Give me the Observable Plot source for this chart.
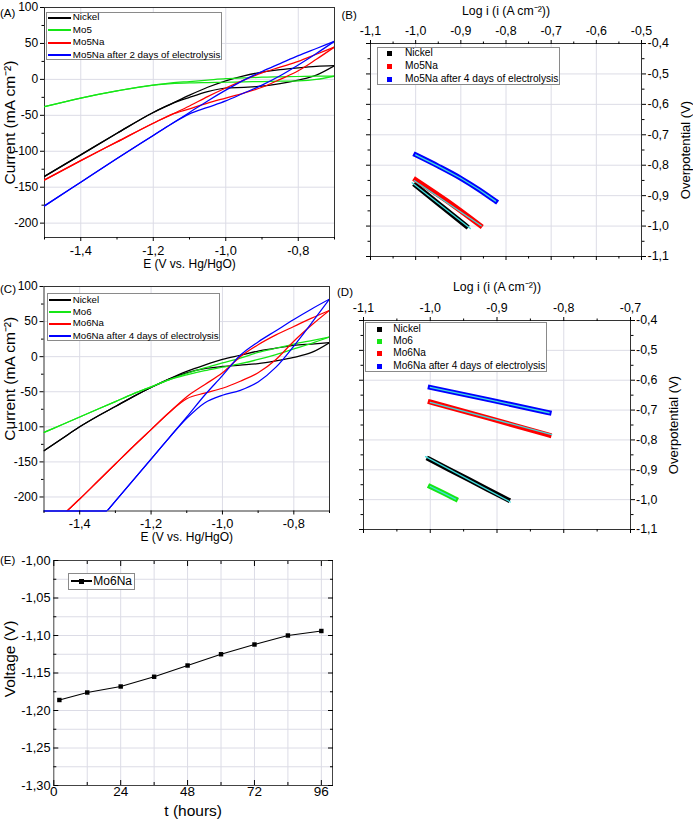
<!DOCTYPE html>
<html>
<head>
<meta charset="utf-8">
<script src="https://cdn.jsdelivr.net/npm/d3@7"></script>
<script src="https://cdn.jsdelivr.net/npm/@observablehq/plot@0.6"></script>
<style>
  body { margin: 0; background: #fff; }
  #fig { position: relative; width: 693px; height: 821px; overflow: hidden;
         font-family: "Liberation Sans", Arial, Helvetica, sans-serif; color: #000; background: #fff; }
  #fig svg { position: absolute; overflow: visible; background: transparent; }
  .plab { position: absolute; font-size: 11.5px; line-height: 16px; white-space: nowrap; }
  .leg { position: absolute; border: 1px solid #8a8a8a; background: #fff; box-sizing: border-box; }
  .leg div { position: absolute; white-space: nowrap; }
</style>
</head>
<body>
<div id="fig"></div>
<script>
// ---------------- DATA ----------------
// Panel A: cyclic voltammograms (E in V vs Hg/HgO, current in mA cm-2)
const E_A = [-1.5, -1.4, -1.3, -1.2, -1.15, -1.1, -1.05, -1.0, -0.95, -0.9, -0.85, -0.8, -0.75, -0.7];
const nickelA_up = [-135, -105, -75, -46, -34, -22, -11, -2, 5, 10, 13.5, 16, 18, 19];
const nickelA_dn = [-135, -105, -75, -46, -34, -25, -17, -12, -11, -9.5, -6, -1, 6, 19];
const mo5A_up    = [-38, -26, -16, -8, -5, -3, -1, 1, 2, 3, 3.5, 4, 4.5, 4.5];
const mo5A_dn    = [-38, -26, -16, -8, -6, -5, -4.5, -4, -3.5, -3, -2.5, -2, 0, 4.5];
const mo5naA_up  = [-140, -113, -87, -61, -49, -37, -24, -12, -1, 9, 17, 25, 35, 45];
const mo5naA_dn  = [-140, -113, -87, -61, -49, -41, -33, -26, -19, -11, 0, 12, 28, 45];
const mo5na2A_up = [-176, -143, -110, -78, -62, -46, -30, -15, -1, 11, 22, 33, 43, 53];
const mo5na2A_dn = [-176, -143, -110, -78, -62, -48, -39, -30, -19, -8, 5, 20, 36, 53];

// Panel C: cyclic voltammograms
const E_C = [-1.5, -1.45, -1.4, -1.35, -1.3, -1.25, -1.2, -1.15, -1.1, -1.05, -1.0, -0.95, -0.9, -0.85, -0.8, -0.75, -0.7];
const nickelC_up = [-134, -117, -100, -85, -71, -57, -44, -32, -21, -12, -4, 2, 8, 12, 16, 18, 20];
const nickelC_dn = [-134, -117, -100, -85, -71, -57, -44, -32, -23, -17, -14, -12, -10, -6, -1, 6, 20];
const mo6C_up    = [-108, -97, -86, -75, -64, -53, -43, -33, -24, -16, -9, -2, 6, 12, 18, 23, 28];
const mo6C_dn    = [-108, -97, -86, -75, -64, -53, -43, -33, -26, -20, -15, -10, -4, 3, 11, 19, 28];
const mo6naC_up  = [-252, -227, -203, -178, -153, -128, -104, -80, -57, -40, -23, 0, 17, 31, 43, 55, 66];
const mo6naC_dn  = [-252, -227, -203, -178, -153, -128, -104, -80, -60, -52, -45, -35, -23, -4, 22, 45, 66];
const mo6na4C_up = [-326, -296, -266, -236, -206, -176, -146, -116, -86, -55, -27, 2, 21, 37, 53, 68, 82];
const mo6na4C_dn = [-326, -296, -266, -236, -206, -176, -146, -116, -88, -66, -55, -48, -36, -15, 15, 48, 82];
const mo6na4C_floorE = [-1.5, -1.325];      // trace drawn along the lower limit
const mo6na4C_floorI = [-220, -220];

// Panel B: Tafel plots (log i, overpotential V)
const nickelB_L = [-1.0, -0.944, -0.888];          const nickelB_eta = [-0.866, -0.933, -1.0];
const nickelB_fitL = [-1.008, -0.879];             const nickelB_fitEta = [-0.858, -1.008];
const mo5naB_L = [-1.0, -0.93, -0.857];            const mo5naB_eta = [-0.848, -0.918, -0.998];
const mo5naB_fitL = [-1.003, -0.855];              const mo5naB_fitEta = [-0.851, -0.999];
const mo5na4B_L = [-1.0, -0.95, -0.9, -0.86, -0.823]; const mo5na4B_eta = [-0.766, -0.803, -0.843, -0.880, -0.918];

// Panel D: Tafel plots
const nickelD_L = [-1.002, -0.943, -0.884];        const nickelD_eta = [-0.864, -0.932, -1.0];
const nickelD_fitL = [-1.007, -0.880];             const nickelD_fitEta = [-0.856, -1.008];
const mo6D_L = [-1.0, -0.98, -0.962];              const mo6D_eta = [-0.956, -0.978, -0.998];
const mo6naD_L = [-1.0, -0.911, -0.822];           const mo6naD_eta = [-0.673, -0.728, -0.784];
const mo6naD_fitL = [-1.0, -0.818];                const mo6naD_fitEta = [-0.674, -0.782];
const mo6na4D_L = [-1.0, -0.911, -0.822];          const mo6na4D_eta = [-0.624, -0.666, -0.709];

// Panel E: chronopotentiometry
const tHours = [2, 12, 24, 36, 48, 60, 72, 84, 96];
const voltage = [-1.186, -1.176, -1.168, -1.155, -1.140, -1.125, -1.112, -1.100, -1.094];

// Ticks and labels
const xTicksCV = [-1.4, -1.2, -1.0, -0.8];
const xMinorCV = [-1.5, -1.3, -1.1, -0.9, -0.7];
const yTicksCV = [-200, -150, -100, -50, 0, 50, 100];
const yMinorCV = [-175, -125, -75, -25, 25, 75];
const xTicksB = [-1.1, -1.0, -0.9, -0.8, -0.7, -0.6, -0.5];
const xMinorB = [-1.05, -0.95, -0.85, -0.75, -0.65, -0.55];
const xTicksD = [-1.1, -1.0, -0.9, -0.8, -0.7];
const xMinorD = [-1.05, -0.95, -0.85, -0.75];
const yTicksT = [-1.1, -1.0, -0.9, -0.8, -0.7, -0.6, -0.5, -0.4];
const yMinorT = [-1.05, -0.95, -0.85, -0.75, -0.65, -0.55, -0.45];
const tTicks = [0, 24, 48, 72, 96];
const tMinor = [12, 36, 60, 84];
const vTicks = [-1.30, -1.25, -1.20, -1.15, -1.10, -1.05, -1.00];
const vMinor = [-1.275, -1.225, -1.175, -1.125, -1.075, -1.025];

const legendA = ["Nickel", "Mo5", "Mo5Na", "Mo5Na after 2 days of electrolysis"];
const legendB = ["Nickel", "Mo5Na", "Mo5Na after 4 days of electrolysis"];
const legendC = ["Nickel", "Mo6", "Mo6Na", "Mo6Na after 4 days of electrolysis"];
const legendD = ["Nickel", "Mo6", "Mo6Na", "Mo6Na after 4 days of electrolysis"];
const legendE = ["Mo6Na"];

// ---------------- STYLE ----------------
const FONT = '"Liberation Sans", Arial, Helvetica, sans-serif';
const GRID = "#dcdce6";
const FRAME = "#333";
const COL = {black: "#000000", green: "#16e616", red: "#ff0000", blue: "#0000ff", cyan: "#3fdcdc"};
const fmt = n => d => d.toFixed(n).replace(".", ",");
const blank = () => "";
const fig = document.getElementById("fig");
const centered = {textAnchor: "middle", lineAnchor: "middle"};

function place(node, left, top) {
  node.style.left = left + "px";
  node.style.top = top + "px";
  fig.appendChild(node);
}
function rowsOf(xs, ys) { return xs.map((x, i) => ({x, y: ys[i]})); }
function branchRows(E, up, dn) {
  return [...E.map((e, i) => ({x: e, y: dn[i], b: "dn"})), ...E.map((e, i) => ({x: e, y: up[i], b: "up"}))];
}

// ---------------- CV PANELS ----------------
function cvPanel({E, series, floor, ml, mr, mt, mb, yDy, yDx}) {
  const marks = [
    Plot.gridX(xTicksCV, {stroke: GRID, strokeOpacity: 1}),
    Plot.gridY(yTicksCV, {stroke: GRID, strokeOpacity: 1}),
    Plot.frame({stroke: FRAME, strokeWidth: 1})
  ];
  for (const s of series) {
    marks.push(Plot.line(branchRows(E, s.up, s.dn), {x: "x", y: "y", z: "b", stroke: s.color, strokeWidth: 1.25, curve: "monotone-x", clip: true}));
  }
  if (floor) marks.push(Plot.line(rowsOf(floor.E, floor.I), {x: "x", y: "y", stroke: floor.color, strokeWidth: 1.4}));
  marks.push(
    Plot.axisY(yTicksCV, {anchor: "left", tickSize: 4, tickPadding: 2.3, tickFormat: d => String(d), fontSize: 12, label: null}),
    Plot.axisY(yMinorCV, {anchor: "left", tickSize: 2.5, tickFormat: blank, label: null}),
    Plot.axisX(xTicksCV, {anchor: "bottom", tickSize: 4, tickPadding: 4, tickFormat: fmt(1), fontSize: 12.8, label: null}),
    Plot.axisX(xMinorCV, {anchor: "bottom", tickSize: 2.5, tickFormat: blank, label: null}),
    Plot.text(["Current (mA cm⁻²)"], {frameAnchor: "left", dx: yDx, dy: yDy, rotate: -90, fontSize: 15.5, ...centered}),
    Plot.text(["E (V vs. Hg/HgO)"], {frameAnchor: "bottom", dy: 26.5, fontSize: 12, ...centered})
  );
  return Plot.plot({
    width: 345, height: 270, marginLeft: ml, marginRight: mr, marginTop: mt, marginBottom: mb,
    x: {domain: [-1.5, -0.7]}, y: {domain: [-220, 100]},
    style: {fontFamily: FONT, background: "transparent", overflow: "visible"},
    marks
  });
}

place(cvPanel({
  E: E_A, ml: 44, mr: 11, mt: 7, mb: 33, yDx: -34, yDy: 0,
  series: [
    {color: COL.black, up: nickelA_up, dn: nickelA_dn},
    {color: COL.green, up: mo5A_up, dn: mo5A_dn},
    {color: COL.red, up: mo5naA_up, dn: mo5naA_dn},
    {color: COL.blue, up: mo5na2A_up, dn: mo5na2A_dn}
  ]
}), 0, 0);

place(cvPanel({
  E: E_C, ml: 43.5, mr: 16, mt: 16, mb: 29.5, yDx: -33.5, yDy: -20,
  series: [
    {color: COL.black, up: nickelC_up, dn: nickelC_dn},
    {color: COL.green, up: mo6C_up, dn: mo6C_dn},
    {color: COL.red, up: mo6naC_up, dn: mo6naC_dn},
    {color: COL.blue, up: mo6na4C_up, dn: mo6na4C_dn}
  ],
  floor: {E: mo6na4C_floorE, I: mo6na4C_floorI, color: COL.blue}
}), 0, 270);

// ---------------- TAFEL PANELS ----------------
function tafelPanel({xDomain, xTicks, xMinor, ml, mr, mt, mb, bands, topDy, rightDx, tickPadTop, tickPadRight}) {
  const marks = [
    Plot.gridX(xTicks, {stroke: GRID, strokeOpacity: 1}),
    Plot.gridY(yTicksT, {stroke: GRID, strokeOpacity: 1})
  ];
  for (const b of bands) {
    marks.push(Plot.line(rowsOf(b.L, b.eta), {x: "x", y: "y", stroke: b.color, strokeWidth: 5, strokeLinecap: "square", curve: "monotone-x"}));
    marks.push(Plot.line(rowsOf(b.fitL, b.fitEta), {x: "x", y: "y", stroke: COL.cyan, strokeWidth: 1.3}));
  }
  marks.push(
    Plot.frame({stroke: FRAME}),
    Plot.axisX(xTicks, {anchor: "top", tickSize: 4, tickPadding: tickPadTop, tickFormat: fmt(1), fontSize: 12.4, label: null}),
    Plot.axisX(xMinor, {anchor: "top", tickSize: 2.5, tickFormat: blank, label: null}),
    Plot.axisX(xTicks, {anchor: "bottom", tickSize: 4, tickFormat: blank, label: null}),
    Plot.axisX(xMinor, {anchor: "bottom", tickSize: 2.5, tickFormat: blank, label: null}),
    Plot.axisY(yTicksT, {anchor: "right", tickSize: 4, tickPadding: tickPadRight, tickFormat: fmt(1), fontSize: 12.4, label: null}),
    Plot.axisY(yMinorT, {anchor: "right", tickSize: 2.5, tickFormat: blank, label: null}),
    Plot.axisY(yTicksT, {anchor: "left", tickSize: 4, tickFormat: blank, label: null}),
    Plot.axisY(yMinorT, {anchor: "left", tickSize: 2.5, tickFormat: blank, label: null}),
    Plot.text(["Log i (i (A cm⁻²))"], {frameAnchor: "top", dy: topDy, fontSize: 12.3, ...centered}),
    Plot.text(["Overpotential (V)"], {frameAnchor: "right", dx: rightDx, rotate: -90, fontSize: 13, ...centered})
  );
  return Plot.plot({
    width: 348, height: 270, marginLeft: ml, marginRight: mr, marginTop: mt, marginBottom: mb,
    x: {domain: xDomain}, y: {domain: [-1.1, -0.4]},
    style: {fontFamily: FONT, background: "transparent", overflow: "visible"},
    marks
  });
}

place(tafelPanel({
  xDomain: [-1.1, -0.5], xTicks: xTicksB, xMinor: xMinorB, ml: 25, mr: 52, mt: 43, mb: 14,
  topDy: -32, rightDx: 44, tickPadTop: 4.6, tickPadRight: 2,
  bands: [
    {color: COL.black, L: nickelB_L, eta: nickelB_eta, fitL: nickelB_fitL, fitEta: nickelB_fitEta},
    {color: COL.red, L: mo5naB_L, eta: mo5naB_eta, fitL: mo5naB_fitL, fitEta: mo5naB_fitEta},
    {color: COL.blue, L: mo5na4B_L, eta: mo5na4B_eta, fitL: mo5na4B_L, fitEta: mo5na4B_eta}
  ]
}), 345, 0);

place(tafelPanel({
  xDomain: [-1.1, -0.7], xTicks: xTicksD, xMinor: xMinorD, ml: 18, mr: 63, mt: 50, mb: 11,
  topDy: -33, rightDx: 43, tickPadTop: 5, tickPadRight: 1.5,
  bands: [
    {color: COL.black, L: nickelD_L, eta: nickelD_eta, fitL: nickelD_fitL, fitEta: nickelD_fitEta},
    {color: COL.green, L: mo6D_L, eta: mo6D_eta, fitL: mo6D_L, fitEta: mo6D_eta},
    {color: COL.red, L: mo6naD_L, eta: mo6naD_eta, fitL: mo6naD_fitL, fitEta: mo6naD_fitEta},
    {color: COL.blue, L: mo6na4D_L, eta: mo6na4D_eta, fitL: mo6na4D_L, fitEta: mo6na4D_eta}
  ]
}), 345, 270);

// ---------------- PANEL E ----------------
const eRows = rowsOf(tHours, voltage);
place(Plot.plot({
  width: 345, height: 281, marginLeft: 53.3, marginRight: 13, marginTop: 20, marginBottom: 36,
  x: {domain: [0, 100]}, y: {domain: [-1.30, -1.00]},
  style: {fontFamily: FONT, background: "transparent", overflow: "visible"},
  marks: [
    Plot.gridX([...tMinor, ...tTicks.slice(1)], {stroke: GRID, strokeOpacity: 1}),
    Plot.gridY([...vMinor, ...vTicks.slice(1, -1)], {stroke: GRID, strokeOpacity: 1}),
    Plot.frame({stroke: "#444"}),
    Plot.line(eRows, {x: "x", y: "y", stroke: "#000", strokeWidth: 1.1}),
    Plot.dot(eRows, {x: "x", y: "y", symbol: "square", r: 2.5, fill: "#000", stroke: "none"}),
    Plot.axisX(tTicks, {anchor: "bottom", tickSize: -5, tickFormat: blank, label: null}),
    Plot.axisX(tMinor, {anchor: "bottom", tickSize: -3, tickFormat: blank, label: null}),
    Plot.axisX(tTicks, {anchor: "top", tickSize: -5, tickFormat: blank, label: null}),
    Plot.axisX(tMinor, {anchor: "top", tickSize: -3, tickFormat: blank, label: null}),
    Plot.axisY(vTicks, {anchor: "left", tickSize: -5, tickFormat: blank, label: null}),
    Plot.axisY(vMinor, {anchor: "left", tickSize: -3, tickFormat: blank, label: null}),
    Plot.axisY(vTicks, {anchor: "right", tickSize: -5, tickFormat: blank, label: null}),
    Plot.axisY(vMinor, {anchor: "right", tickSize: -3, tickFormat: blank, label: null}),
    Plot.axisX(tTicks, {anchor: "bottom", tickSize: 0, tickPadding: 1, tickFormat: d => String(d), fontSize: 13.5, label: null}),
    Plot.axisY(vTicks, {anchor: "left", tickSize: 0, tickPadding: 3.3, tickFormat: fmt(2), fontSize: 12.8, label: null}),
    Plot.text(["Voltage (V)"], {frameAnchor: "left", dx: -43.3, dy: -14, rotate: -90, fontSize: 15.5, ...centered}),
    Plot.text(["t (hours)"], {frameAnchor: "bottom", dy: 25.7, fontSize: 15.5, ...centered})
  ]
}), 0, 540);

// ---------------- LEGENDS & PANEL LETTERS ----------------
function legend({left, top, width, height, names, colors, rows, kind, sx, sw, tx, fontSize}) {
  const box = document.createElement("div");
  box.className = "leg";
  Object.assign(box.style, {width: width + "px", height: height + "px"});
  names.forEach((name, i) => {
    const cy = rows[i] - top - 1;
    if (kind === "line" || kind === "linesq") {
      const ln = document.createElement("div");
      Object.assign(ln.style, {left: Math.round(sx - left - 1) + "px", top: Math.round(cy - 1) + "px", width: Math.round(sw) + "px", height: "2px", backgroundColor: colors[i]});
      box.appendChild(ln);
    }
    if (kind === "square" || kind === "linesq") {
      const sq = document.createElement("div");
      const cx = kind === "square" ? sx : sx + sw / 2;
      const s = 5;
      Object.assign(sq.style, {left: Math.round(cx - left - 1 - s / 2) + "px", top: Math.round(cy - s / 2) + "px", width: s + "px", height: s + "px", backgroundColor: colors[i]});
      box.appendChild(sq);
    }
    const t = document.createElement("div");
    const lh = Math.round(fontSize * 1.4);
    Object.assign(t.style, {left: (tx - left - 1) + "px", top: (cy - lh / 2) + "px", fontSize: fontSize + "px", lineHeight: lh + "px"});
    t.textContent = name;
    box.appendChild(t);
  });
  place(box, left, top);
}

legend({left: 46, top: 11.7, width: 175.5, height: 48.5, names: legendA,
  colors: [COL.black, COL.green, COL.red, COL.blue], rows: [17.3, 29.7, 42.3, 54.7],
  kind: "line", sx: 48.3, sw: 22.7, tx: 72.8, fontSize: 9.8});
legend({left: 46.7, top: 292.7, width: 173, height: 48.3, names: legendC,
  colors: [COL.black, COL.green, COL.red, COL.blue], rows: [300, 311.7, 323.3, 335.7],
  kind: "line", sx: 49, sw: 22, tx: 72.7, fontSize: 9.7});
legend({left: 376.7, top: 46.7, width: 183.5, height: 38.5, names: legendB,
  colors: [COL.black, COL.red, COL.blue], rows: [52.7, 65.7, 78.7],
  kind: "square", sx: 389.3, sw: 0, tx: 405, fontSize: 10.2});
legend({left: 365, top: 321.7, width: 182, height: 50, names: legendD,
  colors: [COL.black, COL.green, COL.red, COL.blue], rows: [329.3, 341, 353.3, 366],
  kind: "square", sx: 379.3, sw: 0, tx: 393.3, fontSize: 10.1});
legend({left: 68.3, top: 573.3, width: 67, height: 16.3, names: legendE,
  colors: ["#000"], rows: [581.5], kind: "linesq", sx: 71, sw: 20.7, tx: 93.3, fontSize: 12});

const letters = [["(A)", 0, 12.5], ["(B)", 341.5, 15], ["(C)", 0, 289], ["(D)", 337, 291.5], ["(E)", 0, 560]];
for (const [txt, x, cy] of letters) {
  const d = document.createElement("div");
  d.className = "plab";
  d.textContent = txt;
  place(d, x, cy - 8);
}
</script>
</body>
</html>
